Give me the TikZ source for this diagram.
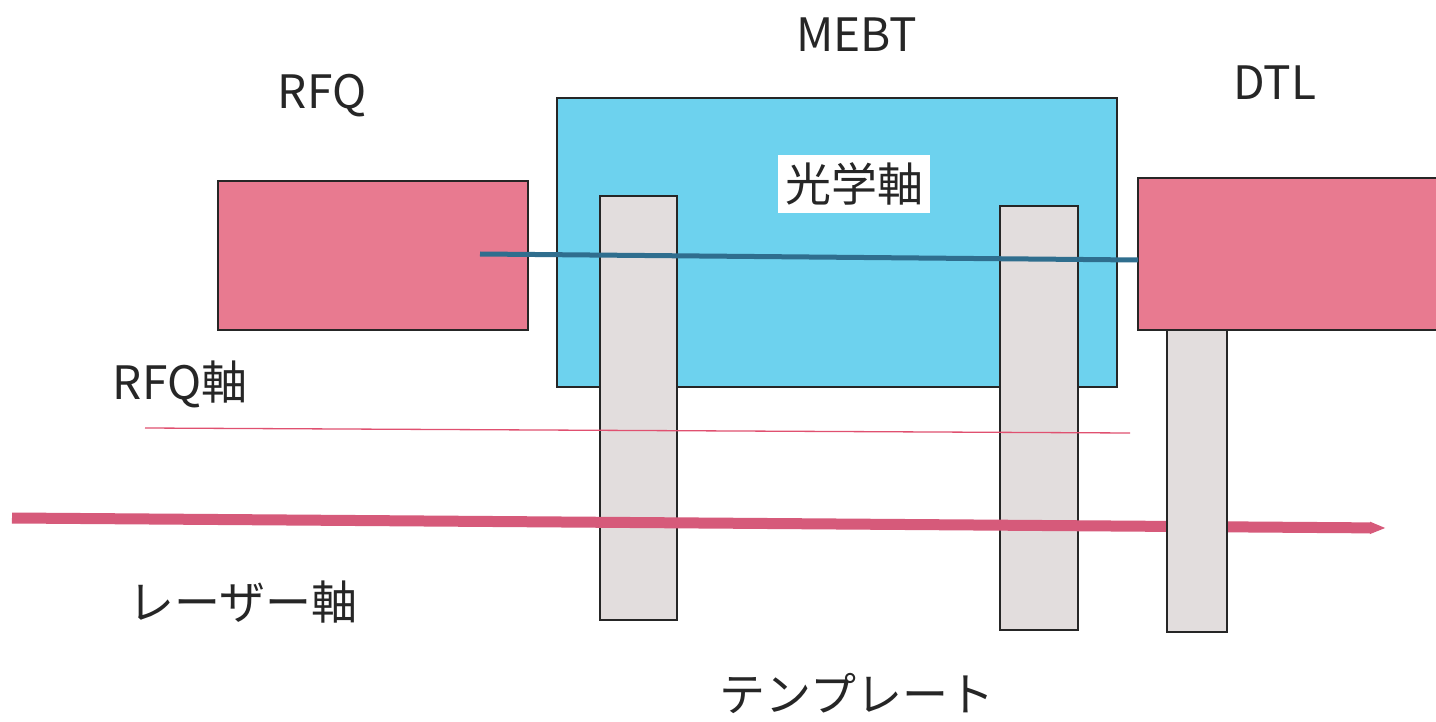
\documentclass[tikz,border=0pt]{standalone}
\usepackage{fontspec}
\setmainfont{Noto Sans CJK JP}
\usetikzlibrary{arrows.meta}
\definecolor{rfqpink}{HTML}{E87A90}
\definecolor{mebtblue}{HTML}{6DD2EE}
\definecolor{postgrey}{HTML}{E2DDDD}
\definecolor{axisblue}{HTML}{2F6E8E}
\definecolor{thinred}{HTML}{E05070}
\definecolor{laserred}{HTML}{D65A7A}
\definecolor{txt}{HTML}{262626}
\tikzset{
  box/.style={draw=black!85, line width=1.2pt},
  post/.style={draw=black!85, line width=1.2pt, fill=postgrey},
  lbl/.style={text=txt, font=\fontsize{46}{50}\selectfont, inner sep=0pt},
}
\begin{document}
\begin{tikzpicture}[x=1pt,y=-1pt]
\useasboundingbox (0,0) rectangle (1436,722);
\fill[white] (0,0) rectangle (1436,722);
% boxes
\draw[box, fill=rfqpink] (218,181) rectangle (528,330);
\draw[box, fill=mebtblue] (557,98) rectangle (1117,387);
\draw[box, fill=rfqpink] (1138,178) rectangle (1445,330);
% label with white background
\node[lbl, fill=white, minimum width=152pt, minimum height=58pt] (opt) at (854,184) {光学軸};
% posts 1 and 2
\draw[post] (600,196) rectangle (677,620);
\draw[post] (1000,206) rectangle (1078,630);
% axes
\coordinate (b1) at (480,254);
\coordinate (b2) at (1138,260);
\draw[axisblue, line width=5pt] (b1) -- (b2);
\coordinate (r1) at (145,428);
\coordinate (r2) at (1130,433);
\draw[thinred, line width=1.3pt] (r1) -- (r2);
\coordinate (l1) at (12,518);
\coordinate (l2) at (1386,528);
\draw[laserred, line width=11pt, -{Triangle[length=16pt,width=11pt]}] (l1) -- (l2);
% post 3
\draw[post] (1167,330) rectangle (1227,632);
% labels
\node[lbl] (mebt) at (857,35) {MEBT};
\node[lbl] (rfq) at (322,96) {RFQ};
\node[lbl] (dtl) at (1275,83) {DTL};
\node[lbl] (rfqax) at (180,384) {RFQ軸};
\node[lbl] (laser) at (243,602) {レーザー軸};
\node[lbl] (tmpl) at (857,693) {テンプレート};
\end{tikzpicture}
\end{document}
